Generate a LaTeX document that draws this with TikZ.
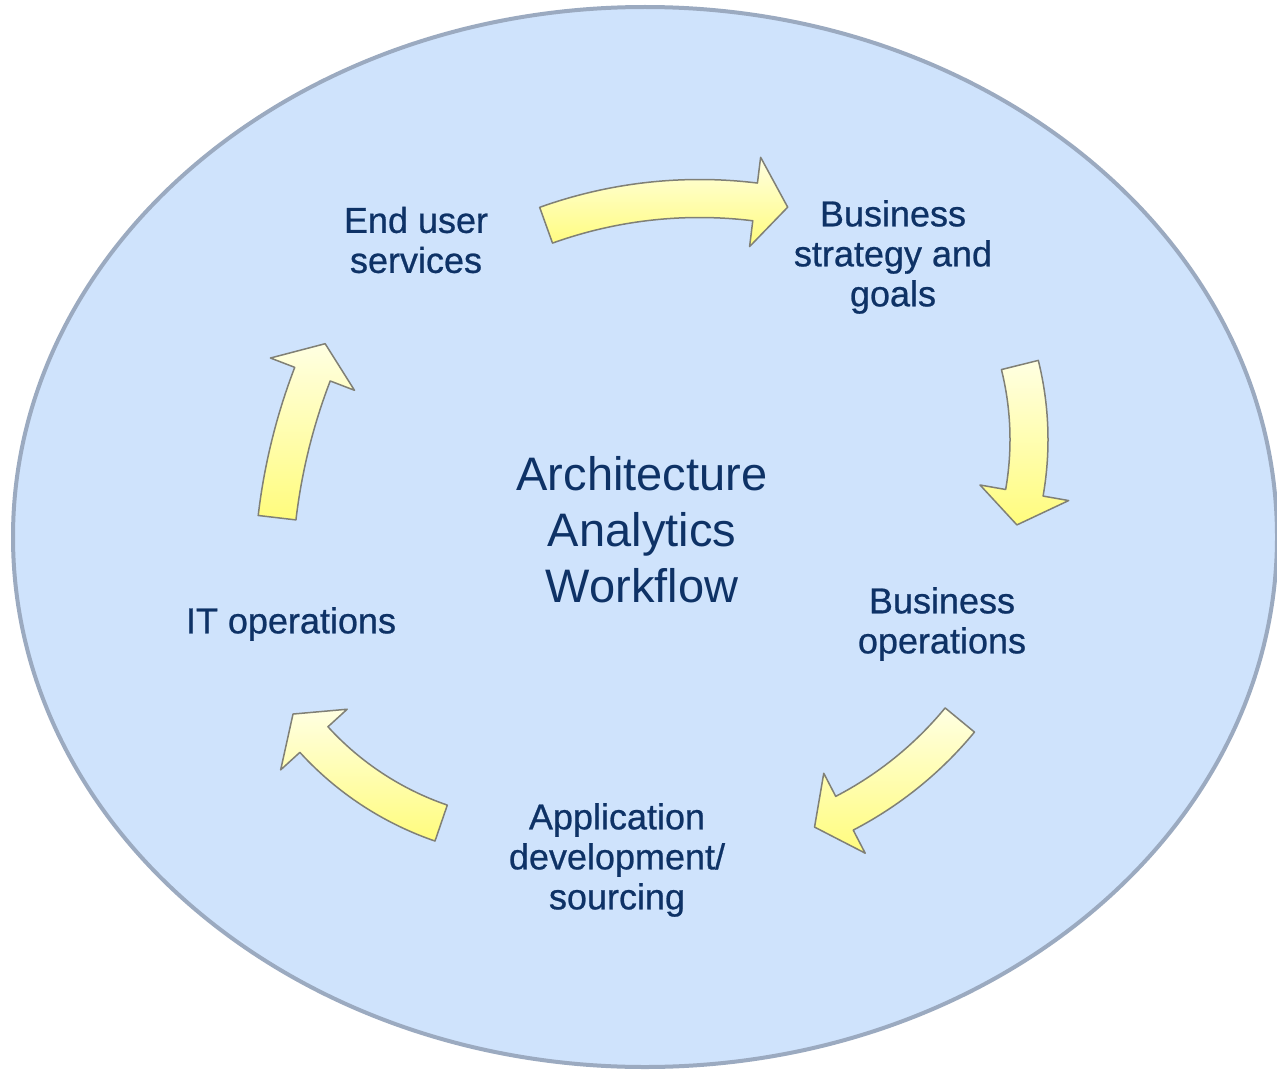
\documentclass[tikz,border=0pt]{standalone}
\usepackage{fontspec}
\setmainfont{Liberation Sans}
\usetikzlibrary{shapes}

\definecolor{ovalfill}{RGB}{207,227,252}
\definecolor{ovalline}{RGB}{155,170,192}
\definecolor{labeltext}{RGB}{14,50,102}
\definecolor{arrowlight}{RGB}{255,255,226}
\definecolor{arrowdark}{RGB}{255,252,125}
\definecolor{arrowline}{RGB}{128,128,118}

% curved block arrow: centre, radius, start angle, end angle
\newcommand{\flowarrow}[4]{%
  \pgfmathsetmacro{\hd}{#4-33/#2*180/pi}
  \path[flow,shift={(#1)}] ({#3}:{#2+19}) arc[start angle=#3,end angle=\hd,radius=#2+19]
    -- ({\hd}:{#2+45}) -- ({#4}:{#2}) -- ({\hd}:{#2-45}) -- ({\hd}:{#2-19})
    arc[start angle=\hd,end angle=#3,radius=#2-19] -- cycle;}

\begin{document}
\begin{tikzpicture}[x=1pt,y=-1pt,every text node part/.style={align=center},
                    lbl/.style={text=labeltext,font=\fontsize{36}{40}\selectfont\addfontfeature{FakeBold=0.7}},
                    title/.style={text=labeltext,font=\fontsize{47}{56}\selectfont},
                    flow/.style={draw=arrowline,line width=1.5pt,line join=round,
                                 top color=arrowlight,bottom color=arrowdark}]
  \useasboundingbox (0,0) rectangle (1277,1070);

  \draw[fill=ovalfill,draw=ovalline,line width=4pt] (645,537) ellipse[x radius=632,y radius=530];

  \flowarrow{699.5,652.5}{454}{-109.75}{-78.8}
  \flowarrow{721,439.5}{308}{-14}{16.1}
  \flowarrow{674,484.4}{370.4}{39.5}{67.7}
  \flowarrow{540.5,532.9}{306.7}{108.9}{143.8}
  \flowarrow{866.3,586.9}{593.3}{186.7}{204.2}

  \node[title] (workflow) at (642,530) {Architecture\\Analytics\\Workflow};

  \node[lbl] (enduser)  at (416,240) {End user\\services};
  \node[lbl] (strategy) at (893,257) {Business\\strategy and\\goals};
  \node[lbl] (busops)   at (942,624) {Business\\operations};
  \node[lbl] (appdev)   at (617,860) {Application\\development/\\sourcing};
  \node[lbl] (itops)    at (291,624) {IT operations};
\end{tikzpicture}
\end{document}
